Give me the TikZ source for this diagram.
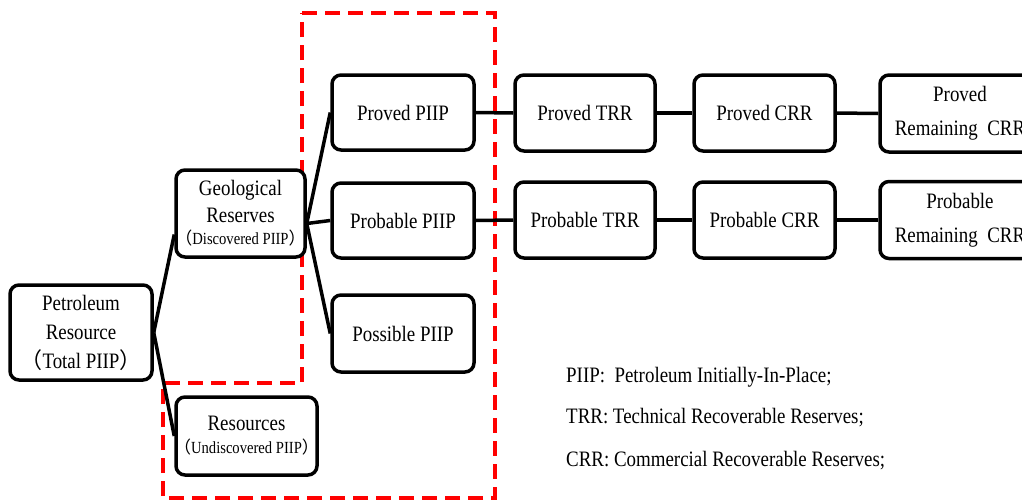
\documentclass[tikz,border=0pt]{standalone}
\usepackage{fontspec}
\setmainfont{Liberation Serif}[FakeStretch=0.86]
\newfontfamily\cjkfont{Noto Sans CJK SC}
\newcommand{\lpar}{{\cjkfont （}}
\newcommand{\rpar}{{\cjkfont ）}}
\newcommand{\smalltxt}{\fontsize{17}{20}\selectfont}
\begin{document}
\begin{tikzpicture}[x=1pt,y=-1pt,
  box/.style={draw=black, line width=3.5pt, rounded corners=9pt, fill=white,
    align=center, inner sep=0pt, font=\fontsize{22}{29}\selectfont},
  link/.style={draw=black, line width=3.5pt},
  zone/.style={draw=red, line width=4pt, dash pattern=on 15pt off 8pt},
  legend/.style={anchor=base west, inner sep=0pt, font=\fontsize{22}{26}\selectfont}]
\clip (0,0) rectangle (1022,501);
\fill[white] (0,0) rectangle (1022,501);

% red dashed zone
\draw[zone] (302,13) -- (495,13) -- (495,498) -- (163,498) -- (163,383) -- (302,383) -- cycle;

% nodes
\node[box, minimum width=142pt, minimum height=95pt] (pet) at (81,332.5)
  {Petroleum\\Resource\\\lpar Total PIIP\rpar};
\node[box, minimum width=129pt, minimum height=87pt] (geo) at (240.5,213.5)
  {Geological\\[-2pt]Reserves\\[-7pt]\makebox[110pt]{\smalltxt\lpar Discovered PIIP\rpar}};
\node[box, minimum width=141pt, minimum height=78pt] (res) at (246.5,436)
  {Resources\\[-6pt]\makebox[110pt]{\smalltxt\lpar Undiscovered PIIP\rpar}};

\node[box, minimum width=142pt, minimum height=75pt] (pp) at (403,112.5) {Proved PIIP};
\node[box, minimum width=142pt, minimum height=75pt] (pb) at (403,220.5) {Probable PIIP};
\node[box, minimum width=142pt, minimum height=77pt] (ps) at (403,333.5) {Possible PIIP};

\node[box, minimum width=140pt, minimum height=76pt] (ptrr) at (585,113) {Proved TRR};
\node[box, minimum width=141pt, minimum height=76pt] (pcrr) at (764.5,113) {Proved CRR};
\node[box, minimum width=160pt, minimum height=77pt] (prem) at (960,113.5)
  {Proved\\[5pt]Remaining\ \ CRR};

\node[box, minimum width=140pt, minimum height=76pt] (btrr) at (585,220) {Probable TRR};
\node[box, minimum width=141pt, minimum height=76pt] (bcrr) at (764.5,220) {Probable CRR};
\node[box, minimum width=160pt, minimum height=77pt] (brem) at (960,220)
  {Probable\\[5pt]Remaining\ \ CRR};

% connectors
\draw[link] (pet.east) -- ([yshift=-21pt]geo.west);
\draw[link] (pet.east) -- (res.west);
\coordinate (gout) at ([yshift=-10pt]geo.east);
\draw[link] (gout) -- (pp.west);
\draw[link] (gout) -- (pb.west);
\draw[link] (gout) -- (ps.west);
\draw[link] (pp.east) -- (ptrr.west);
\draw[link] (ptrr.east) -- (pcrr.west);
\draw[link] (pcrr.east) -- (prem.west);
\draw[link] (pb.east) -- (btrr.west);
\draw[link] (btrr.east) -- (bcrr.west);
\draw[link] (bcrr.east) -- (brem.west);

% legend
\node[legend] (l1) at (566,382) {PIIP:\ \ Petroleum Initially-In-Place;};
\node[legend] (l2) at (566,423) {TRR: Technical Recoverable Reserves;};
\node[legend] (l3) at (566,466) {CRR: Commercial Recoverable Reserves;};
\end{tikzpicture}
\end{document}
